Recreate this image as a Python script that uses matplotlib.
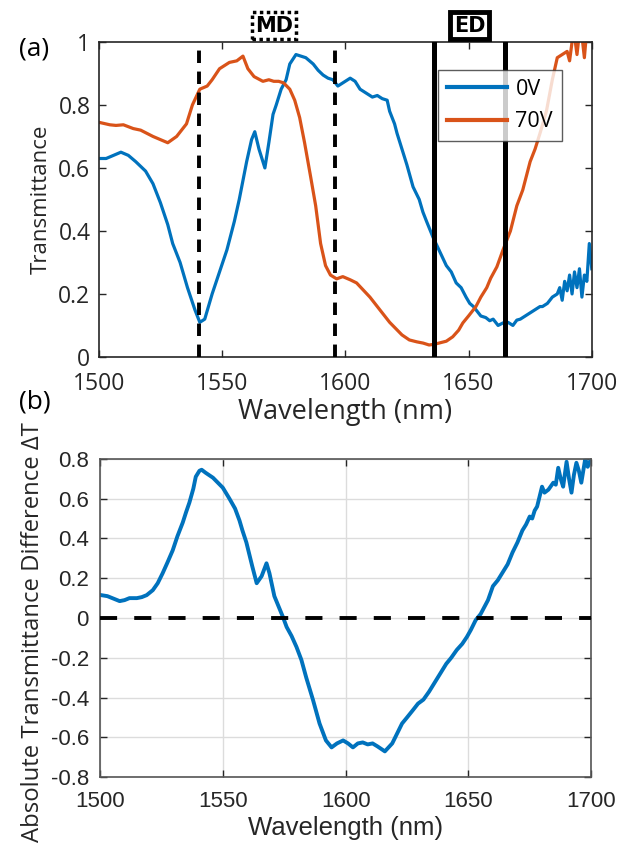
import matplotlib
matplotlib.use("Agg")
import matplotlib.pyplot as plt
import numpy as np

plt.rcParams['font.family'] = ['Open Sans', 'DejaVu Sans']

# ---- panel (a) data ----
wl_0v = [1500, 1503, 1506, 1509, 1512, 1515, 1519, 1522, 1525, 1528, 1530, 1533, 1536, 1539, 1541,
         1543, 1546, 1549, 1552, 1555, 1557, 1560, 1562, 1563.3, 1565, 1567.4, 1569, 1570.7, 1572,
         1574, 1576, 1577.5, 1580, 1582, 1584, 1587, 1589, 1591, 1593, 1595, 1597, 1599, 1602,
         1604, 1606, 1608, 1611, 1613, 1615, 1617, 1618, 1620, 1621, 1623, 1625, 1627.5, 1630,
         1631.5, 1633, 1635.6, 1638, 1641, 1643, 1645, 1647, 1649, 1650.5, 1652, 1653, 1655,
         1657, 1658.6, 1660, 1662, 1664, 1666, 1668, 1669.6, 1671, 1673, 1675, 1677, 1679,
         1680, 1682, 1684, 1686, 1687, 1688, 1689, 1690, 1691, 1692, 1693, 1694, 1695, 1696,
         1697, 1698, 1699, 1700]
t_0v = [0.63, 0.63, 0.64, 0.65, 0.64, 0.62, 0.59, 0.55, 0.49, 0.42, 0.36, 0.30, 0.22, 0.15, 0.11,
        0.12, 0.20, 0.27, 0.34, 0.43, 0.50, 0.62, 0.69, 0.715, 0.66, 0.60, 0.68, 0.77, 0.80,
        0.85, 0.88, 0.93, 0.96, 0.955, 0.95, 0.93, 0.91, 0.895, 0.885, 0.88, 0.86, 0.87, 0.885,
        0.875, 0.85, 0.84, 0.825, 0.83, 0.82, 0.815, 0.78, 0.74, 0.71, 0.66, 0.61, 0.54, 0.50,
        0.46, 0.43, 0.38, 0.34, 0.29, 0.27, 0.235, 0.22, 0.19, 0.17, 0.16, 0.15, 0.13,
        0.125, 0.115, 0.12, 0.10, 0.108, 0.11, 0.10, 0.117, 0.12, 0.13, 0.14, 0.15, 0.16,
        0.16, 0.17, 0.19, 0.20, 0.22, 0.18, 0.24, 0.21, 0.26, 0.20, 0.27, 0.22, 0.28, 0.19,
        0.26, 0.24, 0.36, 0.28]

wl_70v = [1500, 1504.5, 1507, 1510, 1514, 1517, 1519.5, 1522, 1525, 1528, 1531.6, 1535.6, 1538,
          1541, 1544, 1546, 1549, 1553, 1556, 1558.5, 1560.5, 1563, 1566.6, 1569, 1571, 1573,
          1575, 1577.5, 1579.5, 1581.5, 1583.5, 1586, 1588, 1590, 1592, 1594, 1596.5, 1599,
          1602, 1604.6, 1607, 1610, 1612, 1615, 1618, 1621, 1623, 1626, 1629, 1631.6, 1634,
          1636, 1638, 1641, 1643.6, 1646, 1647.7, 1650, 1653, 1655, 1657.4, 1659, 1661.5, 1664,
          1667, 1669.6, 1672, 1675, 1677, 1679, 1681.6, 1684, 1686, 1688, 1690, 1691, 1692,
          1693, 1694, 1695, 1696, 1697, 1698, 1699, 1700]
t_70v = [0.745, 0.737, 0.735, 0.737, 0.725, 0.72, 0.71, 0.70, 0.69, 0.68, 0.70, 0.74, 0.80,
         0.85, 0.86, 0.88, 0.915, 0.935, 0.94, 0.955, 0.915, 0.89, 0.875, 0.88, 0.875, 0.875,
         0.87, 0.85, 0.815, 0.76, 0.68, 0.57, 0.48, 0.36, 0.29, 0.26, 0.248, 0.255,
         0.245, 0.235, 0.215, 0.19, 0.17, 0.14, 0.11, 0.086, 0.07, 0.054, 0.048, 0.044, 0.038,
         0.04, 0.044, 0.05, 0.064, 0.085, 0.108, 0.13, 0.16, 0.19, 0.22, 0.25, 0.286, 0.34,
         0.40, 0.48, 0.53, 0.62, 0.66, 0.71, 0.78, 0.88, 0.95, 0.96, 0.97, 0.94, 1.0,
         1.02, 0.96, 1.03, 1.02, 0.95, 1.04, 1.05, 1.06]

md_lines = [1540.5, 1596]
ed_lines = [1636, 1665]

# ---- panel (b) data ----
wl_b = [1500, 1503, 1505, 1508, 1510, 1512, 1515, 1517, 1519, 1521.5, 1523.5, 1525.5, 1527.5,
        1529.6, 1531.5, 1533.7, 1535, 1536.4, 1538, 1539, 1540.5, 1541.4, 1543, 1546, 1548, 1550,
        1552.7, 1555, 1556.8, 1558, 1559.6, 1561, 1562, 1563.8, 1565.8, 1567.8, 1569, 1571,
        1573, 1574.5, 1576, 1578, 1580, 1582, 1584, 1586.7, 1589.4, 1592, 1594.3, 1596.5, 1599,
        1601, 1603, 1605, 1607, 1609, 1611, 1613, 1616, 1619, 1621, 1623, 1625, 1627.6, 1629.5,
        1631.7, 1634, 1637, 1639, 1641, 1643, 1645.3, 1647.5, 1649.4, 1651, 1653, 1655, 1656.5,
        1658, 1660, 1662, 1664, 1666, 1668, 1670, 1672, 1673.5, 1675, 1676, 1677, 1678, 1680,
        1681, 1682.6, 1684.6, 1685.6, 1686.6, 1687.6, 1688.6, 1690, 1691, 1692, 1693, 1694,
        1695, 1696, 1697.6, 1698.6, 1700]
dt_b = [0.116, 0.11, 0.10, 0.085, 0.09, 0.10, 0.10, 0.105, 0.115, 0.14, 0.175, 0.225, 0.28,
        0.34, 0.41, 0.48, 0.53, 0.58, 0.65, 0.71, 0.74, 0.745, 0.73, 0.705, 0.68, 0.655,
        0.60, 0.55, 0.49, 0.44, 0.38, 0.31, 0.26, 0.175, 0.21, 0.275, 0.225, 0.11,
        0.05, 0.005, -0.045, -0.09, -0.145, -0.21, -0.30, -0.41, -0.53, -0.615, -0.65, -0.63, -0.615,
        -0.63, -0.65, -0.63, -0.625, -0.635, -0.63, -0.645, -0.67, -0.63, -0.58, -0.53, -0.50, -0.46, -0.43,
        -0.41, -0.37, -0.31, -0.27, -0.23, -0.20, -0.16, -0.13, -0.095, -0.06, -0.01, 0.02, 0.055,
        0.09, 0.16, 0.19, 0.23, 0.27, 0.33, 0.38, 0.44, 0.47, 0.51, 0.50, 0.54, 0.56, 0.66,
        0.63, 0.645, 0.68, 0.67, 0.755, 0.70, 0.66, 0.785, 0.70, 0.63, 0.72, 0.78,
        0.74, 0.68, 0.80, 0.76, 0.80]

xticks = [1500, 1550, 1600, 1650, 1700]
yticks_a = [0, 0.2, 0.4, 0.6, 0.8, 1]
yticks_a_labels = ['0', '0.2', '0.4', '0.6', '0.8', '1']
yticks_b = [-0.8, -0.6, -0.4, -0.2, 0, 0.2, 0.4, 0.6, 0.8]
yticks_b_labels = ['-0.8', '-0.6', '-0.4', '-0.2', '0', '0.2', '0.4', '0.6', '0.8']

BLUE = '#0072BD'
ORANGE = '#D95319'
TXT = '#262626'
ARIAL = ['Liberation Sans', 'DejaVu Sans']

fig = plt.figure(figsize=(6.37, 8.56), dpi=100)

# ---------- panel (a) ----------
ax1 = fig.add_axes([0.155, 0.583, 0.774, 0.368])
l0, = ax1.plot(wl_0v, t_0v, color=BLUE, lw=2.3, label='0V')
l1, = ax1.plot(wl_70v, t_70v, color=ORANGE, lw=2.3, label='70V')
for x in md_lines:
    ax1.axvline(x, color='black', lw=2.8, ls=(0, (3.2, 2.2)), zorder=3)
for x in ed_lines:
    ax1.axvline(x, color='black', lw=3.6, zorder=3)
ax1.set_xlim(1500, 1700)
ax1.set_ylim(0, 1)
ax1.set_xticks(xticks)
ax1.set_yticks(yticks_a)
ax1.set_yticklabels(yticks_a_labels)
ax1.tick_params(direction='in', top=True, right=True, labelsize=16.5, colors=TXT, length=5, width=1)
ax1.tick_params(axis='x', pad=11)
ax1.tick_params(axis='y', pad=6)
for s in ax1.spines.values():
    s.set_linewidth(1.2)
    s.set_color(TXT)
ax1.set_xlabel('Wavelength (nm)', fontsize=19.5, color=TXT, labelpad=1)
ax1.set_ylabel('Transmittance', fontsize=16, color=TXT, labelpad=5)
leg = ax1.legend(handles=[l0, l1], loc='upper left', bbox_to_anchor=(0.688, 0.911),
                 fontsize=15.5, frameon=True, fancybox=False, edgecolor='#333333',
                 handlelength=2.8, borderpad=0.4, labelspacing=0.55, handletextpad=0.4,
                 borderaxespad=0)
leg.get_frame().set_linewidth(1.0)
for h in leg.get_lines():
    h.set_linewidth(3.0)
ax1.text(1571, 1.052, 'MD', transform=ax1.get_xaxis_transform(), ha='center', va='center',
         fontsize=15, fontweight='bold', color='black', family=['DejaVu Sans'],
         bbox=dict(boxstyle='square,pad=0.15', fc='white', ec='black', lw=2.5, ls=(0, (1, 1))))
ax1.text(1650.5, 1.052, 'ED', transform=ax1.get_xaxis_transform(), ha='center', va='center',
         fontsize=15, fontweight='bold', color='black', family=['DejaVu Sans'],
         bbox=dict(boxstyle='square,pad=0.18', fc='white', ec='black', lw=3.5))
fig.text(0.053, 0.943, '(a)', fontsize=19, color='black', ha='center', va='center')

# ---------- panel (b) ----------
ax2 = fig.add_axes([0.157, 0.092, 0.771, 0.372])
ax2.plot(wl_b, dt_b, color=BLUE, lw=2.8)
ax2.axhline(0, color='black', lw=2.8, ls=(0, (4.4, 4.4)), zorder=3)
ax2.set_xlim(1500, 1700)
ax2.set_ylim(-0.8, 0.8)
ax2.set_xticks(xticks)
ax2.set_yticks(yticks_b)
ax2.set_yticklabels(yticks_b_labels)
ax2.grid(True, color='#dcdcdc', lw=1.0)
ax2.set_axisbelow(True)
ax2.tick_params(direction='in', top=True, right=True, labelsize=16, colors=TXT, length=5, width=1)
ax2.tick_params(axis='x', pad=10)
ax2.tick_params(axis='y', pad=8)
for t in ax2.get_xticklabels() + ax2.get_yticklabels():
    t.set_family(ARIAL)
for s in ax2.spines.values():
    s.set_linewidth(1.2)
    s.set_color('#555555')
ax2.set_xlabel('Wavelength (nm)', fontsize=18.5, color=TXT, labelpad=3, family=ARIAL)
ax2.set_ylabel('Absolute Transmittance Difference ΔT', fontsize=17.2, color=TXT, labelpad=4)
ax2.yaxis.set_label_coords(-0.112, 0.455)
fig.text(0.055, 0.530, '(b)', fontsize=19, color='black', ha='center', va='center')

fig.savefig('out.png', dpi=100)
